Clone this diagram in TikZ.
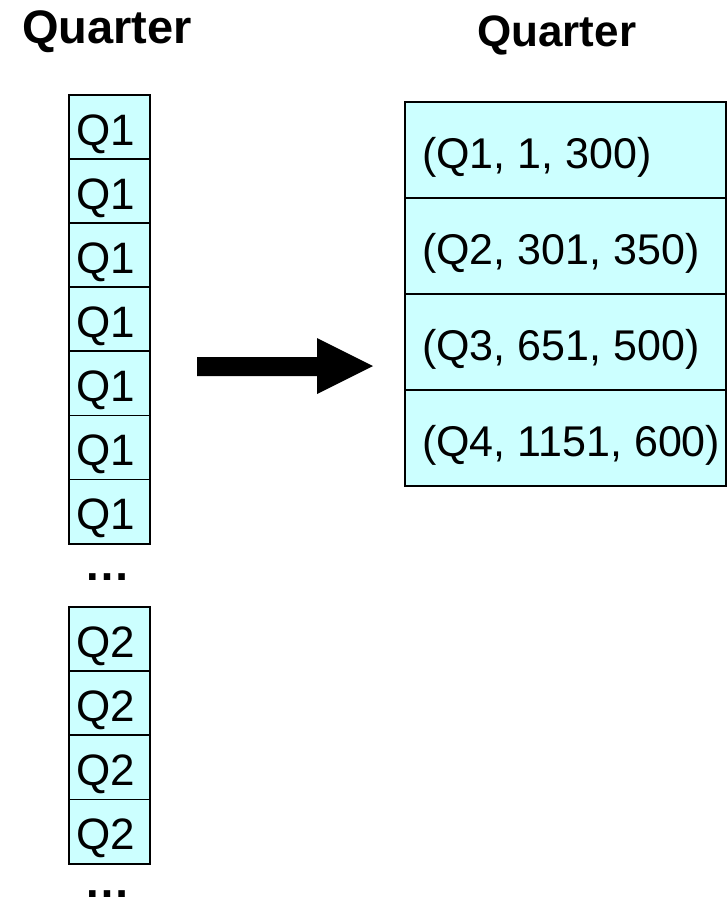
\documentclass[tikz,border=0pt]{standalone}
\usepackage{fontspec}
\setmainfont{Liberation Sans}
\definecolor{cellcyan}{HTML}{CCFFFF}
\begin{document}
\begin{tikzpicture}[x=1pt,y=-1pt,
  cell/.style={draw=black, line width=1.8pt, fill=cellcyan, minimum width=81pt,
    minimum height=64.2pt, inner sep=0pt, anchor=north west},
  tuplerow/.style={draw=black, line width=1.8pt, fill=cellcyan, minimum width=321pt,
    minimum height=96pt, inner sep=0pt, anchor=north west},
  celltext/.style={anchor=base west, inner sep=0pt, font=\fontsize{44}{52}\selectfont},
  tupletext/.style={anchor=base west, inner sep=0pt, font=\fontsize{43}{51}\selectfont},
  heading/.style={anchor=base west, inner sep=0pt, font=\bfseries\fontsize{47}{56}\selectfont},
  ellip/.style={anchor=base west, inner sep=0pt, font=\bfseries\fontsize{46}{55}\selectfont}]
\useasboundingbox (0,0) rectangle (726,902);

% column headings
\node[heading] (titleL) at (22,43) {Quarter};
\node[heading, font=\bfseries\fontsize{44}{53}\selectfont] (titleR) at (477,46) {Quarter};

% raw column: Q1 values
\foreach \i in {0,...,6} {
  \node[cell] (qa\i) at (68,{94+64.1*\i}) {};
  \node[celltext] (qat\i) at (76,{94+64.1*\i+51}) {Q1};
}
\node[ellip] (dotsA) at (84,580) {…};

% raw column: Q2 values
\foreach \i in {0,...,3} {
  \node[cell] (qb\i) at (68,{606+64.2*\i}) {};
  \node[celltext] (qbt\i) at (76,{606+64.2*\i+51}) {Q2};
}
\node[ellip] (dotsB) at (84,897) {…};

% block arrow
\fill[black] (197,357) -- (317,357) -- (317,338) -- (373,366)
  -- (317,394) -- (317,376) -- (197,376) -- cycle;

% compressed column: (value, start, count)
\foreach \i/\t in {0/{(Q1, 1, 300)}, 1/{(Q2, 301, 350)}, 2/{(Q3, 651, 500)}, 3/{(Q4, 1151, 600)}} {
  \node[tuplerow] (r\i) at (404,{101+96*\i}) {};
  \node[tupletext] (rt\i) at (422,{101+96*\i+67}) {\t};
}
\end{tikzpicture}
\end{document}
